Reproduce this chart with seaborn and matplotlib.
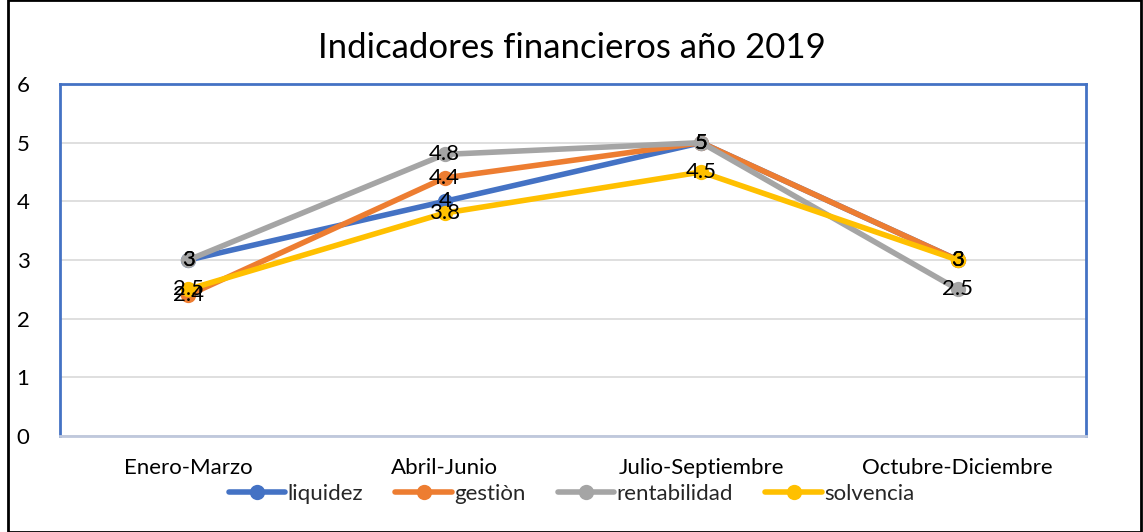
import matplotlib
matplotlib.use("Agg")
import matplotlib.pyplot as plt
import seaborn as sns
import pandas as pd
from matplotlib.patches import Rectangle

categories = ["Enero-Marzo", "Abril-Junio", "Julio-Septiembre", "Octubre-Diciembre"]
liquidez = [3, 4, 5, 3]
gestion = [2.4, 4.4, 5, 3]
rentabilidad = [3, 4.8, 5, 2.5]
solvencia = [2.5, 3.8, 4.5, 3]
series_names = ["liquidez", "gestiòn", "rentabilidad", "solvencia"]
colors = ["#4472C4", "#ED7D31", "#A5A5A5", "#FFC000"]

rows = []
for name, vals in zip(series_names, [liquidez, gestion, rentabilidad, solvencia]):
    for i, (c, v) in enumerate(zip(categories, vals)):
        rows.append({"periodo": i, "valor": v, "serie": name})
df = pd.DataFrame(rows)

sns.set_theme(style="white")
plt.rcParams["font.family"] = ["Lato", "DejaVu Sans"]

fig = plt.figure(figsize=(11.43, 5.32), dpi=100)
ax = fig.add_axes([60 / 1143, (532 - 436) / 532, (1086 - 60) / 1143, (436 - 84) / 532])

sns.lineplot(data=df, x="periodo", y="valor", hue="serie", hue_order=series_names,
             palette=colors, marker="o", markersize=11, linewidth=4.0,
             markeredgewidth=0, ax=ax, legend=True)

# data labels
for name, vals in zip(series_names, [liquidez, gestion, rentabilidad, solvencia]):
    for i, v in enumerate(vals):
        ax.text(i, v, f"{v:g}", ha="center", va="center", fontsize=16, color="#000000")

ax.set_xlim(-0.5, 3.5)
ax.set_ylim(0, 6)
ax.set_yticks(range(0, 7))
ax.set_xticks(range(len(categories)))
ax.set_xticklabels(categories)
ax.tick_params(axis="x", length=0, pad=16, labelsize=16, colors="#000000")
ax.tick_params(axis="y", length=0, pad=22, labelsize=16, colors="#000000")
ax.set_xlabel("")
ax.set_ylabel("")
ax.yaxis.grid(True, color="#D9D9D9", linewidth=1.2)
ax.set_axisbelow(True)
for s in ["left", "top", "right"]:
    ax.spines[s].set_color("#4472C4")
    ax.spines[s].set_linewidth(2)
ax.spines["bottom"].set_color("#BFC8DC")
ax.spines["bottom"].set_linewidth(2)

fig.suptitle("Indicadores financieros año 2019", y=(532 - 48) / 532, va="center",
             fontsize=25, color="#000000")

handles, labels = ax.get_legend_handles_labels()
ax.legend(handles, labels, loc="center", bbox_to_anchor=(0.5, (532 - 494) / 532),
          bbox_transform=fig.transFigure, ncol=4, frameon=False, fontsize=16,
          handlelength=2.55, handletextpad=0.1, columnspacing=1.45)

fig.patches.append(Rectangle((8 / 1143, 0.0), (1141 - 8) / 1143, 1.0, transform=fig.transFigure,
                             fill=False, edgecolor="#000000", linewidth=2))

fig.savefig("out.png", dpi=100)
